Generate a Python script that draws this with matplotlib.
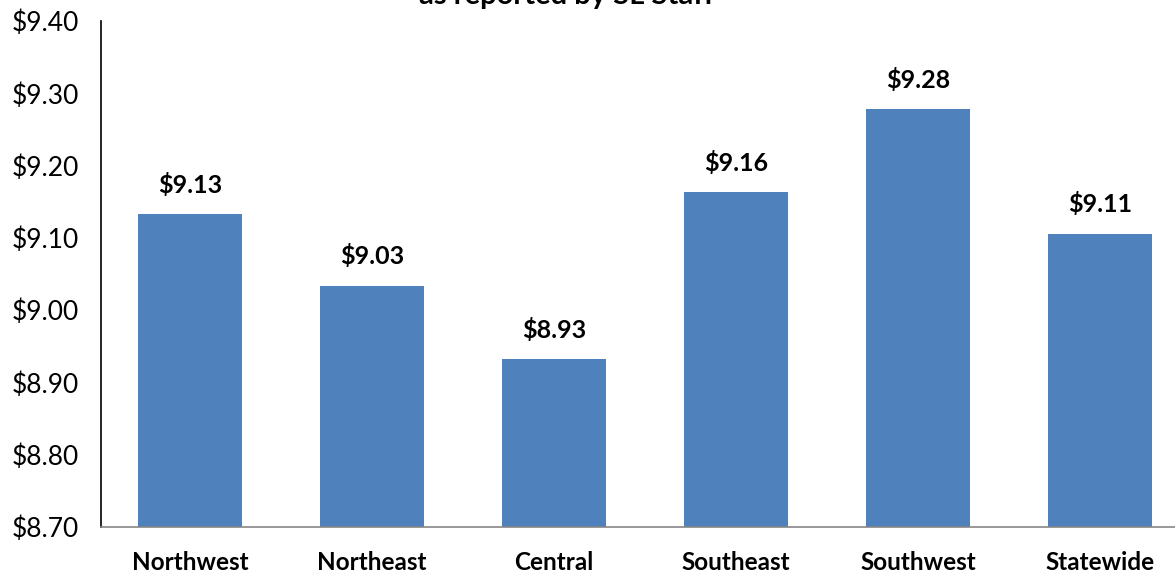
import matplotlib.pyplot as plt

regions = ['Northwest', 'Northeast', 'Central', 'Southeast', 'Southwest', 'Statewide']
wages = [9.133, 9.034, 8.932, 9.163, 9.278, 9.106]
labels = ['$9.13', '$9.03', '$8.93', '$9.16', '$9.28', '$9.11']
yticks = [8.70, 8.80, 8.90, 9.00, 9.10, 9.20, 9.30, 9.40]

plt.rcParams['font.family'] = ['Lato', 'DejaVu Sans']

fig = plt.figure(figsize=(11.75, 5.73), dpi=100)
ax = fig.add_axes([101 / 1175, 1 - 527 / 573, 1 - 101 / 1175, 506 / 573])

x = list(range(len(regions)))
ax.bar(x, wages, width=0.57, color='#4F81BD', zorder=2)
for xi, v, lab in zip(x, wages, labels):
    ax.text(xi, v + 0.024, lab, ha='center', va='bottom', fontsize=18, fontweight='bold')

ax.set_ylim(8.70, 9.40)
ax.set_xlim(-0.489, 5.41)
ax.set_yticks(yticks)
ax.set_yticklabels(['$%.2f' % t for t in yticks], fontsize=19)
ax.set_xticks(x)
ax.set_xticklabels(regions, fontsize=17.5, fontweight='bold')
ax.tick_params(axis='y', length=0, pad=16)
ax.tick_params(axis='x', length=0, pad=17)

ax.spines['top'].set_visible(False)
ax.spines['right'].set_visible(False)
ax.spines['left'].set_color('#000000')
ax.spines['bottom'].set_color('#868686')
ax.spines['left'].set_linewidth(1.2)
ax.spines['bottom'].set_linewidth(1.2)

# title is cut off at the top in the source image
fig.text(567 / 1175, 1 - 4 / 573, 'as reported by SL Staff', ha='center', va='baseline',
         fontsize=21, fontweight='bold')

fig.savefig('out.png', dpi=100)
